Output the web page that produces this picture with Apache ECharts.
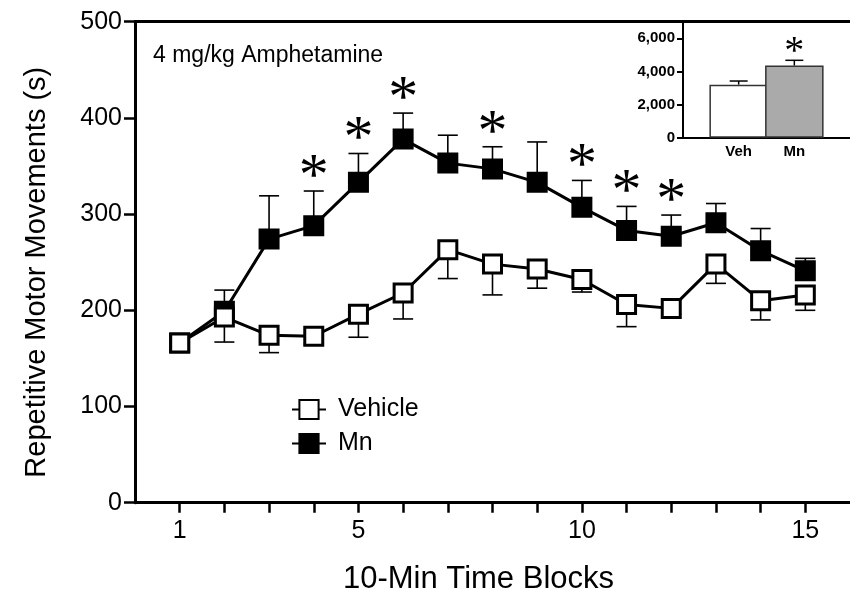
<!DOCTYPE html>
<html><head><meta charset="utf-8">
<script src="https://cdn.jsdelivr.net/npm/echarts@6/dist/echarts.min.js"></script>
<style>html,body{margin:0;padding:0;background:#fff}#c{width:850px;height:600px}</style>
</head><body><div id="c"></div>
<script>
// ---- data ----
const blocks   = [1, 2, 3, 4, 5, 6, 7, 8, 9, 10, 11, 12, 13, 14, 15];
const vehMean  = [166, 193, 174, 173, 196, 218, 263, 248, 243, 232, 206, 202, 248, 210, 216];
const vehSem   = [5, 26, 18, 8, 24, 27, 30, 32, 20, 13, 23, 6, 20, 20, 16];
const mnMean   = [166, 199, 274, 288, 333, 378, 353, 347, 333, 307, 283, 277, 291, 262, 241];
const mnSem    = [5, 22, 45, 36, 30, 27, 29, 23, 42, 28, 25, 22, 20, 23, 13];
const sigBlocks = [4, 5, 6, 8, 10, 11, 12];
const xTickValues  = [1, 2, 3, 4, 5, 6, 7, 8, 9, 10, 11, 12, 13, 14, 15];
const xLabelValues = [1, 5, 10, 15];
const insetCats = ['Veh', 'Mn'];
const insetMean = [3200, 4350];
const insetSem  = [220, 320];
const insetSig  = ['Mn'];
const insetTicks = [0, 2000, 4000, 6000];

const FONT = 'Liberation Sans';

function errRender(dir, capW, lw) {
  return function (params, api) {
    const x = api.value(0), m = api.value(1), s = api.value(2);
    const p0 = api.coord([x, m]);
    const p1 = api.coord([x, m + dir * s]);
    return {
      type: 'group',
      children: [
        { type: 'line', shape: { x1: p0[0], y1: p0[1], x2: p1[0], y2: p1[1] }, style: { stroke: '#000', lineWidth: lw } },
        { type: 'line', shape: { x1: p1[0] - capW / 2, y1: p1[1], x2: p1[0] + capW / 2, y2: p1[1] }, style: { stroke: '#000', lineWidth: lw } }
      ]
    };
  };
}
function starRender(dy, size) {
  return function (params, api) {
    const p = api.coord([api.value(0), api.value(1)]);
    return {
      type: 'text',
      x: p[0], y: p[1] - dy,
      style: { text: '*', fontFamily: 'Liberation Serif', fontSize: size, fill: '#000', align: 'center', verticalAlign: 'middle' }
    };
  };
}

const chart = echarts.init(document.getElementById('c'), null, { renderer: 'canvas' });
const option = {
  animation: false,
  textStyle: { fontFamily: FONT, color: '#000' },
  title: {
    text: '4 mg/kg Amphetamine', left: 148, top: 39,
    textStyle: { fontFamily: FONT, fontSize: 23, fontWeight: 'normal', color: '#000' }
  },
  legend: {
    orient: 'vertical', left: 286, top: 392,
    itemWidth: 34, itemHeight: 24, itemGap: 9,
    data: ['Vehicle', 'Mn'],
    textStyle: { fontFamily: FONT, fontSize: 25, color: '#000', padding: [0, 0, 0, 7] }
  },
  grid: [
    { left: 135, top: 21.7, width: 723, height: 481 },
    { left: 683, top: 21.7, width: 175.5, height: 116 }
  ],
  xAxis: [
    {
      gridIndex: 0, type: 'value', min: 0, max: 16, position: 'bottom',
      name: '10-Min Time Blocks', nameLocation: 'middle', nameGap: 61,
      nameTextStyle: { fontFamily: FONT, fontSize: 31, color: '#000', padding: [0, 28, 0, 0] },
      axisLine: { onZero: false, lineStyle: { color: '#000', width: 3 } },
      axisTick: { show: true, customValues: xTickValues, length: 10, lineStyle: { color: '#000', width: 2.5 } },
      axisLabel: { customValues: xLabelValues, fontFamily: FONT, fontSize: 25, color: '#000', margin: 16 },
      splitLine: { show: false }
    },
    {
      gridIndex: 0, type: 'value', min: 0, max: 16, position: 'top',
      axisLine: { show: true, onZero: false, lineStyle: { color: '#000', width: 3 } },
      axisTick: { show: false }, axisLabel: { show: false }, splitLine: { show: false }
    },
    {
      gridIndex: 1, type: 'value', min: 0, max: 3,
      axisLine: { onZero: false, lineStyle: { color: '#000', width: 2 } },
      axisTick: { show: false },
      axisLabel: {
        customValues: [1, 2], fontFamily: FONT, fontSize: 15, fontWeight: 'bold', color: '#000', margin: 7,
        formatter: v => insetCats[Math.round(v) - 1] || ''
      },
      splitLine: { show: false }
    }
  ],
  yAxis: [
    {
      gridIndex: 0, type: 'value', min: 0, max: 500, interval: 100,
      name: 'Repetitive Motor Movements (s)', nameLocation: 'middle', nameGap: 84,
      nameTextStyle: { fontFamily: FONT, fontSize: 29, color: '#000', padding: [0, 20, 0, 0] },
      axisLine: { show: true, lineStyle: { color: '#000', width: 3 } },
      axisTick: { show: true, length: 11, lineStyle: { color: '#000', width: 2.5 } },
      axisLabel: { fontFamily: FONT, fontSize: 25, color: '#000', margin: 13 },
      splitLine: { show: false }
    },
    {
      gridIndex: 1, type: 'value', min: 0, max: 7000,
      axisLine: { show: true, lineStyle: { color: '#000', width: 2 } },
      axisTick: { show: true, customValues: insetTicks, length: 6, lineStyle: { color: '#000', width: 2 } },
      axisLabel: {
        customValues: insetTicks, fontFamily: FONT, fontSize: 15, fontWeight: 'bold', color: '#000', margin: 8,
        formatter: v => v.toLocaleString('en-US')
      },
      splitLine: { show: false }
    }
  ],
  series: [
    {
      type: 'custom', name: 'mnErr', xAxisIndex: 0, yAxisIndex: 0, z: 1,
      renderItem: errRender(1, 20, 1.6),
      data: blocks.map((b, i) => [b, mnMean[i], mnSem[i]])
    },
    {
      type: 'custom', name: 'vehErr', xAxisIndex: 0, yAxisIndex: 0, z: 1,
      renderItem: errRender(-1, 20, 1.6),
      data: blocks.map((b, i) => [b, vehMean[i], vehSem[i]])
    },
    {
      type: 'line', name: 'Mn', xAxisIndex: 0, yAxisIndex: 0, z: 3,
      data: blocks.map((b, i) => [b, mnMean[i]]),
      symbol: 'rect', symbolSize: 18,
      lineStyle: { color: '#000', width: 3 },
      itemStyle: { color: '#000', borderColor: '#000', borderWidth: 3 }
    },
    {
      type: 'line', name: 'Vehicle', xAxisIndex: 0, yAxisIndex: 0, z: 4,
      data: blocks.map((b, i) => [b, vehMean[i]]),
      symbol: 'rect', symbolSize: 18,
      lineStyle: { color: '#000', width: 3 },
      itemStyle: { color: '#fff', borderColor: '#000', borderWidth: 3 }
    },
    {
      type: 'custom', name: 'stars', xAxisIndex: 0, yAxisIndex: 0, z: 5,
      renderItem: starRender(13, 60),
      data: sigBlocks.map(b => { const i = blocks.indexOf(b); return [b, mnMean[i] + mnSem[i]]; })
    },
    {
      type: 'bar', name: 'inset', xAxisIndex: 2, yAxisIndex: 1, barWidth: 58.5, z: 2,
      data: insetCats.map((c, i) => ({
        value: [i + 1, insetMean[i]],
        itemStyle: { color: i === 0 ? '#fff' : '#aaaaaa', borderColor: '#333', borderWidth: 1.5 }
      }))
    },
    {
      type: 'custom', name: 'insetErr', xAxisIndex: 2, yAxisIndex: 1, z: 1,
      renderItem: errRender(1, 18, 1.5),
      data: insetCats.map((c, i) => [i + 1, insetMean[i], insetSem[i]])
    },
    {
      type: 'custom', name: 'insetStar', xAxisIndex: 2, yAxisIndex: 1, z: 5,
      renderItem: starRender(8, 40),
      data: insetSig.map(c => { const i = insetCats.indexOf(c); return [i + 1, insetMean[i] + insetSem[i]]; })
    }
  ]
};
chart.setOption(option);
</script>
</body></html>
